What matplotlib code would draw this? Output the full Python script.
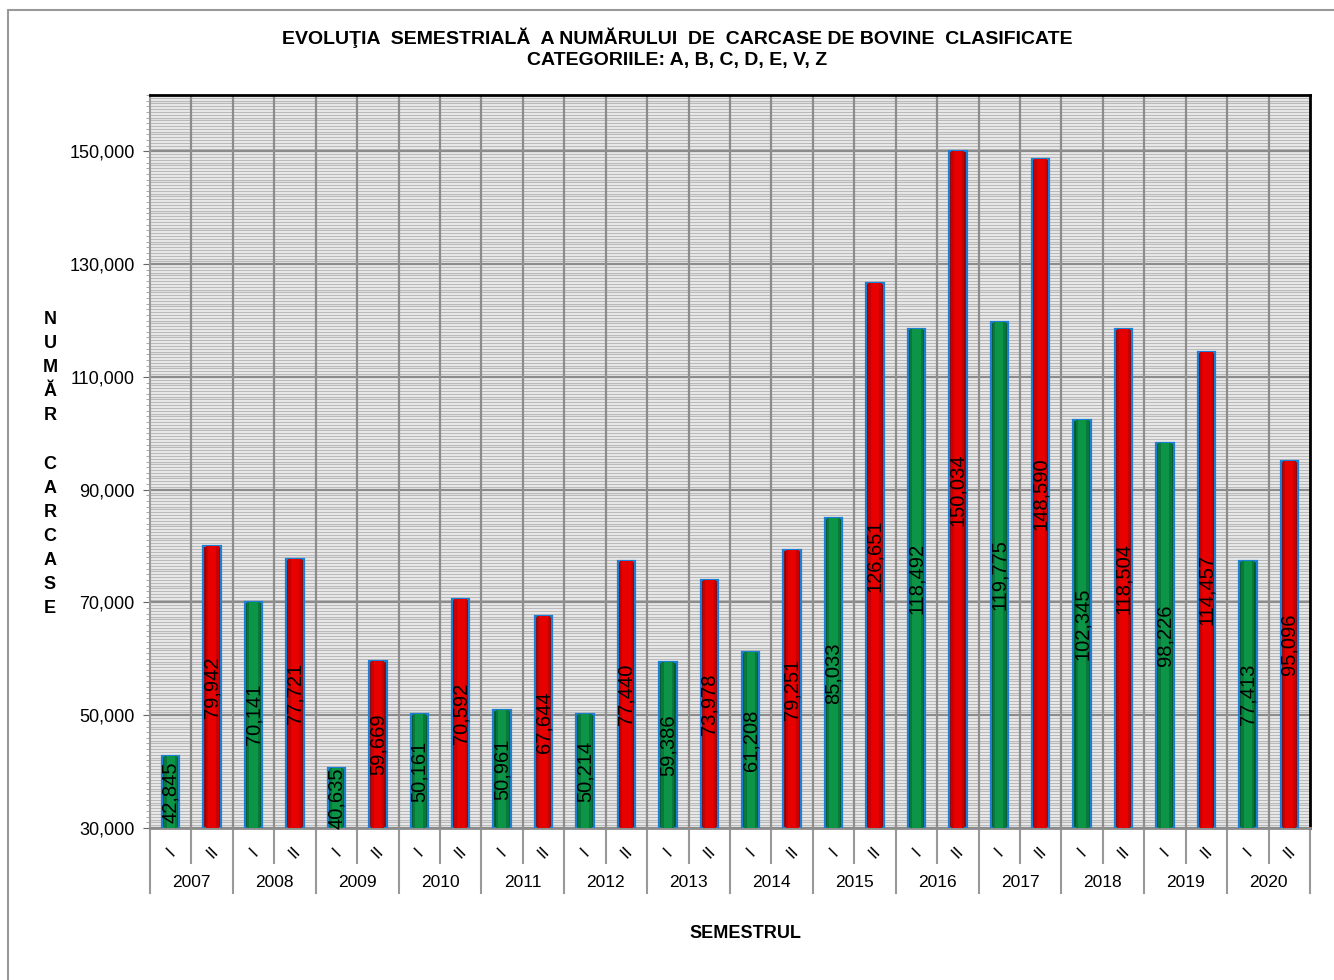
import numpy as np
import matplotlib
matplotlib.use("Agg")
import matplotlib.pyplot as plt
from matplotlib.ticker import MultipleLocator, FuncFormatter
from matplotlib.patches import Rectangle
import matplotlib.transforms as mtransforms

plt.rcParams['font.family'] = ['Liberation Sans', 'DejaVu Sans']

years = ['2007', '2008', '2009', '2010', '2011', '2012', '2013',
         '2014', '2015', '2016', '2017', '2018', '2019', '2020']
semesters = ['I', 'II']
sem_I = [42845, 70141, 40635, 50161, 50961, 50214, 59386,
         61208, 85033, 118492, 119775, 102345, 98226, 77413]
sem_II = [79942, 77721, 59669, 70592, 67644, 77440, 73978,
          79251, 126651, 150034, 148590, 118504, 114457, 95096]

values = []
for a, b in zip(sem_I, sem_II):
    values += [a, b]
x = np.arange(len(values))
# (edge shade, mid shade, centre shade) for I and II
green = ['#045c24', '#08793a', '#0c9447']
red = ['#9c0000', '#c80000', '#e60000']
shades = [green, red] * len(years)

fig = plt.figure(figsize=(13.34, 9.8), dpi=100)
ax = fig.add_axes([150 / 1334, 1 - 828 / 980, 1160 / 1334, 733 / 980])

# outer frame
fig.patches.append(Rectangle((8 / 1334, -0.01), 1.1, 1 - 10 / 980 + 0.01,
                             transform=fig.transFigure, fill=False,
                             edgecolor='#999999', linewidth=1.5))

ax.set_facecolor('#f2f2f2')
ax.set_xlim(-0.5, len(values) - 0.5)
ax.set_ylim(30000, 160000)

# grid
for yv in np.arange(30500, 160000, 500):
    ax.axhline(yv, color='#bababa', linewidth=1.0, zorder=0)
for yv in np.arange(30000, 160001, 20000):
    ax.axhline(yv, color='#8c8c8c', linewidth=1.6, zorder=0.5)
for xv in np.arange(0.5, len(values) - 0.5, 1):
    ax.axvline(xv, color='#8c8c8c', linewidth=1.6, zorder=0.5)

# bars with a simple cylinder-like shading
heights = [v - 30000 for v in values]
ax.bar(x, heights, bottom=30000, width=0.42, color=[s[0] for s in shades],
       edgecolor='#1c7fd4', linewidth=1.6, zorder=3)
ax.bar(x, heights, bottom=30000, width=0.32, color=[s[1] for s in shades],
       linewidth=0, zorder=3.2)
ax.bar(x, heights, bottom=30000, width=0.2, color=[s[2] for s in shades],
       linewidth=0, zorder=3.4)

for xi, v in zip(x, values):
    ax.text(xi, (v + 30000) / 2, f'{v:,}', rotation=90, ha='center',
            va='center', fontsize=14.5, color='black', zorder=5)

ax.set_yticks(np.arange(30000, 150001, 20000))
ax.yaxis.set_minor_locator(MultipleLocator(1000))
ax.yaxis.set_major_formatter(FuncFormatter(lambda v, p: f'{int(v):,}'))
ax.tick_params(axis='y', which='major', labelsize=13, length=5,
               color='#666666', pad=6)
ax.tick_params(axis='y', which='minor', length=3, color='#999999')
ax.set_xticks([])

ax.spines['top'].set_color('black')
ax.spines['top'].set_linewidth(2)
ax.spines['right'].set_color('black')
ax.spines['right'].set_linewidth(2)
ax.spines['left'].set_color('#999999')
ax.spines['left'].set_linewidth(1.5)
ax.spines['bottom'].set_color('#8c8c8c')
ax.spines['bottom'].set_linewidth(2)

# category axis: semester labels, year labels, separators
trans = mtransforms.blended_transform_factory(ax.transData, ax.transAxes)
px = 1 / 733
for i in range(len(values)):
    ax.text(x[i], -24 * px, semesters[i % 2], rotation=45, ha='center',
            va='center', fontsize=12.5, transform=trans)
for k in range(len(years) + 1):
    xb = 2 * k - 0.5
    ax.plot([xb, xb], [0, -65 * px], color='#999999', linewidth=1.5,
            transform=trans, clip_on=False)
for k in range(len(years)):
    xb = 2 * k + 0.5
    ax.plot([xb, xb], [0, -35 * px], color='#999999', linewidth=1.5,
            transform=trans, clip_on=False)
    ax.text(2 * k + 0.5, -54 * px, years[k], ha='center', va='center',
            fontsize=12.5, transform=trans)

fig.text(677 / 1334, 1 - 38 / 980,
         'EVOLUŢIA  SEMESTRIALĂ  A NUMĂRULUI  DE  CARCASE DE BOVINE  CLASIFICATE',
         ha='center', va='center', fontsize=14, fontweight='bold')
fig.text(677 / 1334, 1 - 60 / 980, 'CATEGORIILE: A, B, C, D, E, V, Z',
         ha='center', va='center', fontsize=14, fontweight='bold')
fig.text(745 / 1334, 1 - 933 / 980, 'SEMESTRUL', ha='center', va='center',
         fontsize=13, fontweight='bold')
fig.text(50 / 1334, 1 - 464 / 980, '\n'.join('NUMĂR CARCASE'),
         ha='center', va='center', fontsize=13, fontweight='bold',
         linespacing=1.55)

fig.savefig('out.png', dpi=100)
